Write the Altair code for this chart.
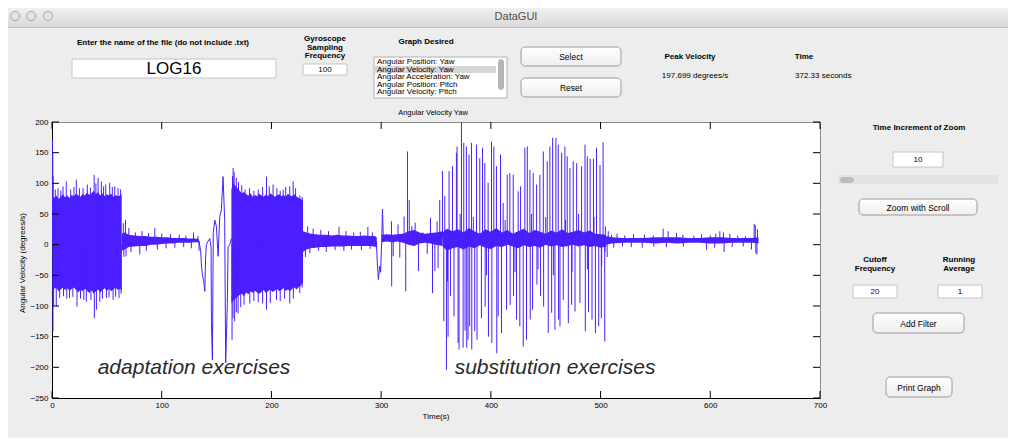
import altair as alt
import pandas as pd

# ------------------------------------------------------------------ data
x_ticks = [0, 100, 200, 300, 400, 500, 600, 700]
y_ticks = [-250, -200, -150, -100, -50, 0, 50, 100, 150, 200]

# dense block 1 (adaptation exercises) envelope
b1_t = [0.5, 2, 4, 6, 8, 10, 12, 14, 16, 18, 20, 22, 24, 26, 28, 30, 32, 34, 36, 38,
        40, 42, 44, 46, 48, 50, 52, 54, 56, 58, 60, 62, 63.5]
b1_hi = [80, 76, 80, 74, 78, 82, 77, 80, 76, 81, 79, 84, 80, 78, 83, 80, 85, 81, 84, 88,
         82, 86, 80, 84, 79, 82, 80, 83, 78, 81, 79, 80, 82]
b1_lo = [-75, -72, -70, -76, -73, -70, -74, -71, -75, -72, -70, -74, -78, -73, -76, -72,
         -75, -79, -74, -80, -76, -73, -78, -74, -71, -75, -72, -76, -73, -70, -74, -72, -75]

# dense block 2 envelope
b2_t = [163.5, 165, 167, 169, 171, 173, 175, 177, 179, 181, 183, 185, 187, 189, 191, 193,
        195, 197, 199, 201, 203, 205, 207, 209, 211, 213, 215, 217, 219, 221, 223, 225, 227, 228.8]
b2_hi = [90, 100, 96, 92, 88, 84, 86, 82, 80, 84, 78, 81, 79, 83, 80, 78, 82, 79, 84, 81,
         78, 80, 82, 79, 81, 78, 83, 80, 79, 82, 78, 76, 74, 72]
b2_lo = [-95, -92, -88, -85, -82, -80, -84, -78, -81, -76, -79, -75, -78, -80, -77, -74,
         -79, -76, -73, -77, -75, -72, -76, -74, -71, -75, -73, -76, -72, -70, -73, -69, -66, -62]

# low-amplitude noise bands
n1_t = [63.5, 66, 70, 75, 80, 85, 90, 95, 100, 105, 110, 115, 120, 125, 130, 134]
n1_hi = [18, 20, 16, 15, 14, 14, 13, 13, 12, 12, 11, 11, 11, 10, 10, 9]
n1_lo = [-10, -8, -4, -3, -2, -2, 0, 0, 1, 2, 2, 3, 3, 3, 4, 4]

n2_t = [228.8, 232, 236, 240, 245, 250, 255, 260, 265, 270, 275, 280, 285, 290, 294, 296]
n2_hi = [22, 20, 18, 17, 16, 16, 15, 16, 15, 15, 14, 14, 15, 14, 14, 12]
n2_lo = [-12, -8, -6, -5, -4, -4, -3, -3, -3, -2, -2, -2, -2, -2, -3, -5]

n3_t = [300.5, 305, 310, 315, 320, 325, 330, 335, 340, 345, 350, 356]
n3_hi = [16, 17, 16, 17, 18, 22, 24, 20, 18, 19, 20, 22]
n3_lo = [4, 5, 4, 5, 3, 0, -2, 2, 3, 2, 0, -2]

n4_t = [356, 360, 365, 370, 375, 380, 385, 390, 395, 400, 405, 410, 415, 420, 425, 430,
        435, 440, 445, 450, 455, 460, 465, 470, 475, 480, 485, 490, 495, 500, 505]
n4_hi = [20, 26, 22, 25, 20, 27, 22, 18, 25, 21, 27, 20, 24, 18, 22, 26, 19, 24, 21, 18,
         23, 20, 25, 19, 21, 24, 20, 23, 18, 17, 16]
n4_lo = [-3, -10, -6, -4, -8, -3, -6, -1, -5, -7, -2, -4, 0, -3, -6, -1, -4, -2, -5,
         0, -3, -1, -4, -2, 0, -3, -1, -4, -2, -5, -3]

n5_t = [505, 510, 520, 530, 540, 550, 560, 570, 580, 590, 600, 610, 620, 630, 638, 644]
n5_hi = [14, 12, 11, 11, 11, 12, 12, 12, 11, 11, 12, 12, 11, 11, 11, 12]
n5_lo = [0, 2, 3, 3, 3, 2, 3, 2, 3, 3, 2, 2, 3, 3, 3, 2]

# sparse line sections
c_t = [134, 135.5, 136.2, 137.1, 138.3, 139.3, 140, 140.7, 142, 143.8, 145, 145.3, 146.2,
       147, 148.4, 149.9, 151.4, 152.9, 154.4, 155.9, 157.4, 158.3, 159.8, 160.5, 162, 163.5]
c_v = [6, -10, -33, -49, -60, -76, -20, 0, 5, 10, -5, -125, -188, 20, 40, 29, -19, 46, 57,
       111, 40, -193, -96, -3, 0, 10]
d_t = [294, 295.7, 296.5, 297.5, 298.7, 299.5, 300.5, 301.2, 302]
d_v = [5, 5, -30, -57, -35, -45, 5, 58, 10]

# spikes: block 1 (baseline 0)
s1_t = [0.5, 0.7, 1.0, 3, 5.5, 8, 10, 13, 17, 20, 22.2, 25, 28.3, 32.2, 35, 38.4, 40, 42,
        45, 47, 49, 52.6, 55, 57.2, 60.2, 62.5,
        0.9, 1.5, 3.9, 7, 10.5, 13.5, 16, 19, 22.8, 26, 29, 31.3, 35.5, 38.6, 40.5, 43.6,
        46, 49.6, 52, 55.7, 58, 61.1, 63]
s1_v = [171, 150, 112, 90, 92, 88, 95, 103, 90, 94, 106, 92, 92, 98, 93, 114, 100, 109,
        103, 95, 98, 101, 94, 95, 92, 90,
        -141, -100, -101, -87, -84, -88, -87, -85, -101, -88, -90, -93, -90, -120, -106,
        -93, -88, -87, -86, -90, -85, -87, -80]
# spikes: block 2 (baseline 0)
s2_t = [164.5, 165.1, 166, 168, 170, 173, 176, 180, 184, 188, 192, 195.5, 198, 201.5, 205,
        208, 210.7, 213, 216.7, 219.8, 222, 225.9, 228,
        164.1, 165, 166.5, 168, 169.6, 172, 175, 180.3, 184, 188, 192, 195.5, 199, 204.6,
        208, 212, 216.7, 220, 225.9, 228]
s2_v = [112, 125, 118, 109, 102, 97, 90, 92, 88, 90, 94, 111, 95, 98, 92, 88, 90, 94, 95,
        103, 92, 80, 78,
        -155, -120, -125, -110, -112, -102, -98, -96, -92, -94, -96, -106, -95, -90, -92,
        -88, -96, -88, -79, -70]
# spikes on the quiet stretches (baseline 6)
s3_t = [65, 67, 70, 76, 82, 88, 93.7, 100, 108, 116, 122, 129, 133,
        65.5, 67.5, 72, 80, 86, 96, 104, 112, 120, 127, 134,
        233, 238, 245, 252, 261.6, 268, 275, 281, 287.9, 292,
        231, 235, 243, 250, 258, 266, 273, 282, 290]
s3_v = [35, 40, 27, 20, 22, 19, 27, 18, 17, 16, 15, 20, 14,
        -20, -19, -12, -16, -10, -8, -6, -5, -4, -6, -10,
        30, 26, 24, 22, 29, 22, 20, 21, 29, 20,
        -20, -14, -10, -12, -9, -10, -8, -9, -7]
# spikes 300-358 s (baseline 10)
s5_t = [309.4, 315.4, 320.9, 324, 325.6, 328, 331, 338, 345, 351, 353.4,
        311, 317, 309.6, 322.4, 334, 342, 346.8, 349, 351.9]
s5_v = [38, 33, 46, 152, 73, 30, 36, 20, 44, 38, 73,
        -19, -21, -68, -76, -43, -15, -79, -43, -38]
# substitution exercises: large spikes (baseline 10)
big_t = [355.9, 357.1, 358.0, 359.5, 361.0, 361.9, 363.2, 365.0, 366.4, 368.6, 369.2, 370.1,
         371.0, 373.2, 374.7, 375.3, 376.5, 377.7, 378.0, 379.2, 380.1, 380.7, 382.3, 382.6,
         385.3, 386.9, 387.4, 389.9, 391.4, 392.4, 394.5, 394.8, 397.5, 397.8, 400.6, 400.9,
         402.7, 405.1, 405.4, 406.7, 408.8, 409.7, 411.2, 414.3, 414.9, 417.3, 417.6, 420.4,
         420.7, 423.4, 424.9, 426.4, 427.1, 429.5, 431.0, 432.5, 433.2, 435.6, 435.9, 438.0,
         438.6, 441.7, 442.0, 444.7, 445.3, 447.8, 448.1, 451.4, 452.3, 453.8, 455.4, 456.3,
         458.4, 459.3, 461.4, 461.7, 463.0, 464.5, 466.0, 467.5, 469.6, 470.6, 472.1, 473.6,
         475.1, 476.7, 478.2, 481.2, 482.7, 485.8, 486.1, 487.9, 489.0, 490.5, 492.2, 493.5,
         495.3, 496.3, 498.3, 499.5, 500.7, 502.3, 503.8,
         360.5, 372, 384, 396, 413, 422, 437, 443, 450, 457, 468, 474, 480, 488, 494, 501]
big_v = [120, -125, 79, -204, -150, 120, -84, 128, -117, 150, 160, -160,
         -171, 199, -168, 166, -140, 160, -168, -155, 147, -133, 166, -171,
         -141, 163, -155, 141, -120, 158, 133, -101, 101, -150, 168, -160,
         160, 128, -177, -117, 147, -144, 68, -106, 114, 117, -98, 114,
         -84, -122, 87, -133, 95, -166, 158, -155, 160, 122, -122, -106,
         117, 98, -65, 114, -84, 152, -101, 136, -144, 160, -111, 174,
         -139, 174, 163, -122, -133, 150, -90, 160, 144, -128, 125, -98,
         136, -109, 133, -95, 128, 163, -141, 144, -110, 140, -122, 140,
         -144, 158, -133, 130, -120, 167, -158,
         -60, 50, 45, -50, 40, -45, 50, -40, 45, -50, 40, -45, 50, -40, 45, -35]
# tail spikes 505-645 s (baseline 7)
s6_t = [504.4, 507, 510, 515, 522, 530, 540, 548, 557, 561.6, 569.2, 575, 585, 592, 600,
        605, 608.7, 612, 617.8, 625, 632, 640, 641, 643,
        504, 506, 512, 520, 528, 538, 548.5, 560, 575.5, 596.5, 604, 612.6, 620, 630,
        637.5, 641.5, 642.5]
s6_v = [30, 22, 16, 18, 15, 17, 16, 15, 26, 22, 19, 16, 15, 17, 15,
        18, 22, 20, 18, 15, 14, 34, 32, 25,
        -12, -20, -5, -3, -4, -5, -3, -4, -3, -8, -5, -12, -4, -3,
        -8, -14, -16]

# ------------------------------------------------------------------ tables
def band(seg, t, hi, lo):
    return pd.DataFrame({"seg": seg, "t": t, "hi": hi, "lo": lo})

bands = pd.concat([band("b1", b1_t, b1_hi, b1_lo), band("b2", b2_t, b2_hi, b2_lo),
                   band("n1", n1_t, n1_hi, n1_lo), band("n2", n2_t, n2_hi, n2_lo),
                   band("n3", n3_t, n3_hi, n3_lo), band("n4", n4_t, n4_hi, n4_lo),
                   band("n5", n5_t, n5_hi, n5_lo)], ignore_index=True)
lines = pd.concat([pd.DataFrame({"seg": "c", "t": c_t, "v": c_v}),
                   pd.DataFrame({"seg": "d", "t": d_t, "v": d_v})], ignore_index=True)

def spk(t, v, base):
    return pd.DataFrame({"t": t, "v": v, "base": base})

spikes = pd.concat([spk(s1_t, s1_v, 0), spk(s2_t, s2_v, 0), spk(s3_t, s3_v, 6),
                    spk(s5_t, s5_v, 10), spk(big_t, big_v, 10), spk(s6_t, s6_v, 7)],
                   ignore_index=True)
xt = pd.DataFrame({"x": x_ticks})
yt = pd.DataFrame({"y": y_ticks})

# ------------------------------------------------------------------ styling
SIG = "#4b1eff"
FONT = "Liberation Sans"
X0, Y0 = 52, 122          # page position of the plot origin
W, H = 768, 276

xs = alt.Scale(domain=[0, 700], nice=False, zero=False)
ys = alt.Scale(domain=[-250, 200], nice=False, zero=False)
xaxis = alt.Axis(values=x_ticks, ticks=False, tickSize=0, grid=False, labelFont=FONT,
                 labelFontSize=8, labelColor="black", labelPadding=3, labelFlush=False,
                 labelOverlap=False, domainColor="black", title=None, format="d")
yaxis = alt.Axis(values=y_ticks, ticks=False, tickSize=0, grid=False, labelFont=FONT,
                 labelFontSize=8, labelColor="black", labelPadding=4, labelFlush=False,
                 labelOverlap=False, domainColor="black", title=None, format="d")

ONE = pd.DataFrame({"k": [0]})


def txt(s, x, y, size=8, bold=False, align="center", color="black", italic=False,
        angle=None, baseline="middle"):
    kw = dict(text=s, fontSize=size, font=FONT, align=align, baseline=baseline, color=color)
    if bold:
        kw["fontWeight"] = "bold"
    if italic:
        kw["fontStyle"] = "italic"
    if angle is not None:
        kw["angle"] = angle
    return alt.Chart(ONE).mark_text(**kw).encode(x=alt.value(x - X0), y=alt.value(y - Y0))


def box(x1, y1, x2, y2, fill="white", stroke=None, r=0, sw=1):
    kw = dict(fill=fill, cornerRadius=r)
    if stroke is not None:
        kw["stroke"] = stroke
        kw["strokeWidth"] = sw
    return alt.Chart(ONE).mark_rect(**kw).encode(
        x=alt.value(x1 - X0), x2=alt.value(x2 - X0),
        y=alt.value(y1 - Y0), y2=alt.value(y2 - Y0))


def grad(c1, c2):
    return alt.LinearGradient(gradient="linear", x1=0, x2=0, y1=0, y2=1,
                              stops=[alt.GradientStop(color=c1, offset=0),
                                     alt.GradientStop(color=c2, offset=1)])


def button(x1, y1, x2, y2, label):
    return [box(x1, y1, x2, y2, fill=grad("#ffffff", "#eeeeee"), stroke="#9a9a9a", r=4),
            txt(label, (x1 + x2) / 2, (y1 + y2) / 2 + 0.5, size=8.5)]


def field(x1, y1, x2, y2, label, size=8):
    return [box(x1, y1, x2, y2, fill="white", stroke="#c4c4c4"),
            txt(label, (x1 + x2) / 2, (y1 + y2) / 2 + 0.5, size=size)]


gui = []
# window title bar
gui.append(box(8, 8, 1008, 27, fill=grad("#f0f0f0", "#d9d9d9")))
gui.append(box(8, 27, 1008, 27.8, fill="#b4b4b4"))
for cx in [15, 31, 48]:
    gui.append(alt.Chart(ONE).mark_circle(size=85, fill="#e2e2e2", stroke="#a6a6a6",
                                          strokeWidth=1, opacity=1)
               .encode(x=alt.value(cx - X0), y=alt.value(16 - Y0)))
gui.append(txt("DataGUI", 516, 17, size=11, color="#4d4d4d"))

gui.append(txt("Enter the name of the file (do not include .txt)", 163, 43, bold=True))
gui += field(72, 59, 276, 78, "LOG16", size=17)
for s, y in [("Gyroscope", 39), ("Sampling", 47.5), ("Frequency", 56)]:
    gui.append(txt(s, 325, y, bold=True))
gui += field(303, 64, 347, 75, "100")
gui.append(txt("Graph Desired", 426, 42, bold=True))
gui.append(box(374, 57, 507, 98, fill="white", stroke="#b0b0b0"))
gui.append(box(375, 66, 496, 73, fill="#d6d6d6"))
gui.append(box(498, 59, 504, 90, fill="#b6b6b6", r=3))
for s, y in [("Angular Position: Yaw", 62), ("Angular Velocity: Yaw", 69.5),
             ("Angular Acceleration: Yaw", 77), ("Angular Position: Pitch", 84.5),
             ("Angular Velocity: Pitch", 92)]:
    gui.append(txt(s, 377, y, align="left"))
gui += button(521, 47, 621, 66, "Select")
gui += button(521, 78, 621, 97, "Reset")
gui.append(txt("Peak Velocity", 690, 57, bold=True))
gui.append(txt("197.699 degrees/s", 695, 76))
gui.append(txt("Time", 804, 57, bold=True))
gui.append(txt("372.33 seconds", 795, 76, align="left"))

gui.append(txt("Time Increment of  Zoom", 919, 128, bold=True))
gui += field(893, 152, 943, 167, "10")
gui.append(box(838, 175, 998, 184, fill="#e3e3e3"))
gui.append(box(840, 177, 854, 183, fill="#bcbcbc", r=3))
gui += button(859, 199, 977, 215, "Zoom with Scroll")
for s, y in [("Cutoff", 260), ("Frequency", 269)]:
    gui.append(txt(s, 875, y, bold=True))
for s, y in [("Running", 260), ("Average", 269)]:
    gui.append(txt(s, 959, y, bold=True))
gui += field(853, 285, 897, 298, "20")
gui += field(938, 285, 982, 298, "1")
gui += button(873, 313, 964, 333, "Add Filter")
gui += button(886, 377, 952, 397, "Print Graph")

# ------------------------------------------------------------------ plot layers
X_T = alt.X("t:Q", scale=xs, axis=xaxis)
area = alt.Chart(bands).mark_area(color=SIG, opacity=1, clip=True).encode(
    x=X_T,
    y=alt.Y("hi:Q", scale=ys, axis=yaxis),
    y2="lo:Q",
    detail="seg:N")
line = alt.Chart(lines).mark_line(color=SIG, strokeWidth=1, clip=True).encode(
    x=X_T,
    y=alt.Y("v:Q", scale=ys, axis=yaxis),
    detail="seg:N")
rules = alt.Chart(spikes).mark_rule(color=SIG, strokeWidth=1, clip=True).encode(
    x=X_T,
    y=alt.Y("base:Q", scale=ys, axis=yaxis),
    y2="v:Q")

tick_style = dict(color="black", strokeWidth=1)
xt_bot = alt.Chart(xt).mark_rule(**tick_style).encode(
    x=alt.X("x:Q", scale=xs, axis=xaxis), y=alt.value(H), y2=alt.value(H - 7))
xt_top = alt.Chart(xt).mark_rule(**tick_style).encode(
    x=alt.X("x:Q", scale=xs, axis=xaxis), y=alt.value(0), y2=alt.value(7))
yt_left = alt.Chart(yt).mark_rule(**tick_style).encode(
    y=alt.Y("y:Q", scale=ys, axis=yaxis), x=alt.value(0), x2=alt.value(7))
yt_right = alt.Chart(yt).mark_rule(**tick_style).encode(
    y=alt.Y("y:Q", scale=ys, axis=yaxis), x=alt.value(W - 7), x2=alt.value(W))

labels = [
    txt("Angular Velocity Yaw", 433, 113, size=7.5),
    txt("Time(s)", 436, 417, size=8),
    txt("Angular Velocity (degrees/s)", 23, 263, size=8, angle=270),
    txt("adaptation exercises", 194, 374, size=21, italic=True, color="#2a2a2a",
        baseline="alphabetic"),
    txt("substitution exercises", 555, 374, size=21, italic=True, color="#2a2a2a",
        baseline="alphabetic"),
]

chart = alt.layer(area, line, rules, xt_bot, xt_top, yt_left, yt_right, *gui, *labels).properties(
    width=W, height=H,
    padding={"left": 44, "top": 114, "right": 188, "bottom": 40},
    autosize=alt.AutoSizeParams(type="none"),
    background="#ededed",
).configure_view(fill="white", stroke="#8a8a8a", strokeWidth=1)

chart.save("out.html", embed_options={"renderer": "svg", "actions": False})
